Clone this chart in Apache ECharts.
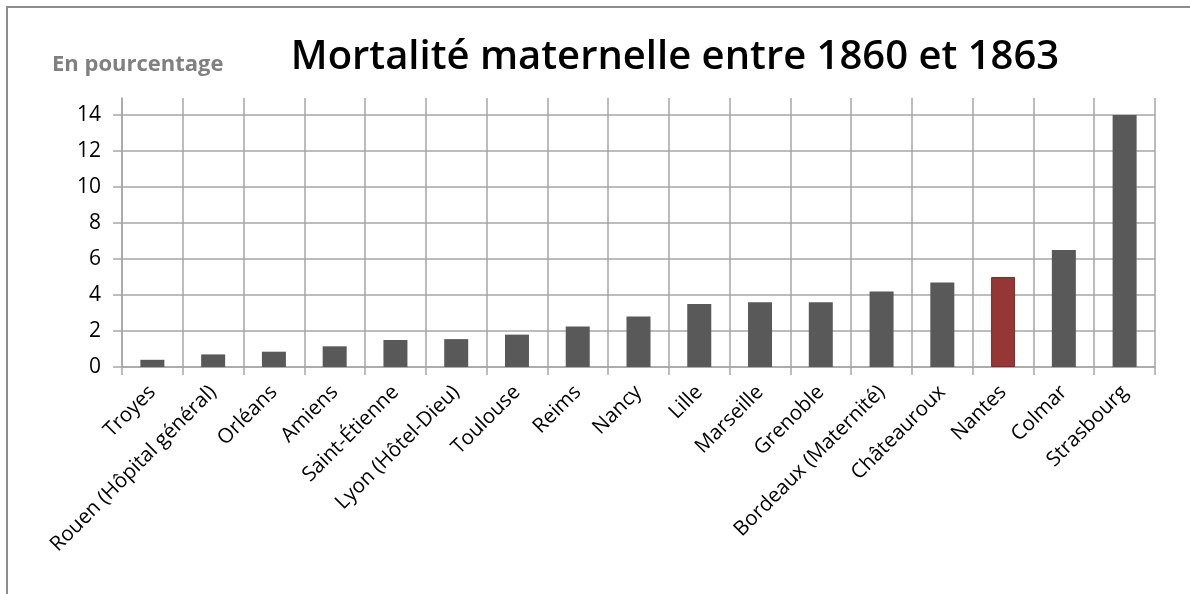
<!DOCTYPE html>
<html>
<head>
<meta charset="utf-8">
<script src="https://cdn.jsdelivr.net/npm/echarts@6/dist/echarts.min.js"></script>
<style>
  html, body { margin: 0; padding: 0; background: #fff; }
  #main { width: 1190px; height: 594px; }
</style>
</head>
<body>
<div id="main"></div>
<script>
// villes, triées par mortalité croissante
const villes = ['Troyes', 'Rouen (Hôpital général)', 'Orléans', 'Amiens', 'Saint-Étienne',
  'Lyon (Hôtel-Dieu)', 'Toulouse', 'Reims', 'Nancy', 'Lille', 'Marseille', 'Grenoble',
  'Bordeaux (Maternité)', 'Châteauroux', 'Nantes', 'Colmar', 'Strasbourg'];
// mortalité en %
const mortalite = [0.4, 0.7, 0.85, 1.15, 1.5, 1.55, 1.8, 2.25, 2.8, 3.5, 3.6, 3.6, 4.2, 4.7, 5.0, 6.5, 14.0];
const villeEnRouge = 'Nantes';

const gris = '#a6a6a6';
const police = '"Open Sans", "DejaVu Sans", sans-serif';

let myChart = echarts.init(document.getElementById('main'));

let option = {
  animation: false,
  backgroundColor: '#fff',
  title: {
    text: 'Mortalité maternelle entre 1860 et 1863',
    left: 670,
    top: 33,
    textAlign: 'center',
    textStyle: { fontFamily: police, fontSize: 40, fontWeight: 600, color: '#000' }
  },
  graphic: [
    // cadre du graphique
    { type: 'rect', shape: { x: 7, y: 7, width: 1200, height: 600 },
      style: { fill: 'none', stroke: '#8c8c8c', lineWidth: 2 }, silent: true },
    { type: 'text', left: 52, top: 54,
      style: { text: 'En pourcentage', fill: '#808080', font: 'bold 22px ' + police } }
  ],
  grid: { left: 122, right: 35, top: 98, bottom: 227 },
  xAxis: {
    type: 'category',
    data: villes,
    axisLine: { lineStyle: { color: gris, width: 1.5 } },
    axisTick: { show: true, length: 8, lineStyle: { color: gris, width: 1.5 } },
    splitLine: { show: true, lineStyle: { color: gris, width: 1.5 } },
    axisLabel: { rotate: 45, interval: 0, fontFamily: police, fontSize: 20.5, color: '#000', margin: 22 }
  },
  yAxis: {
    type: 'value',
    min: 0,
    max: 14.95,
    interval: 2,
    axisLine: { show: true, lineStyle: { color: gris, width: 1.5 } },
    axisTick: { show: true, length: 9, lineStyle: { color: gris, width: 1.5 } },
    splitLine: { show: true, showMaxLine: false, lineStyle: { color: gris, width: 1.5 } },
    axisLabel: { showMaxLabel: false, fontFamily: police, fontSize: 21, color: '#000', margin: 21 }
  },
  series: [{
    type: 'bar',
    barWidth: 24,
    data: mortalite.map((v, i) => ({
      value: v,
      itemStyle: villes[i] === villeEnRouge
        ? { color: '#953735', borderColor: '#7a2a28', borderWidth: 1 }
        : { color: '#595959' }
    }))
  }]
};

myChart.setOption(option);
</script>
</body>
</html>
